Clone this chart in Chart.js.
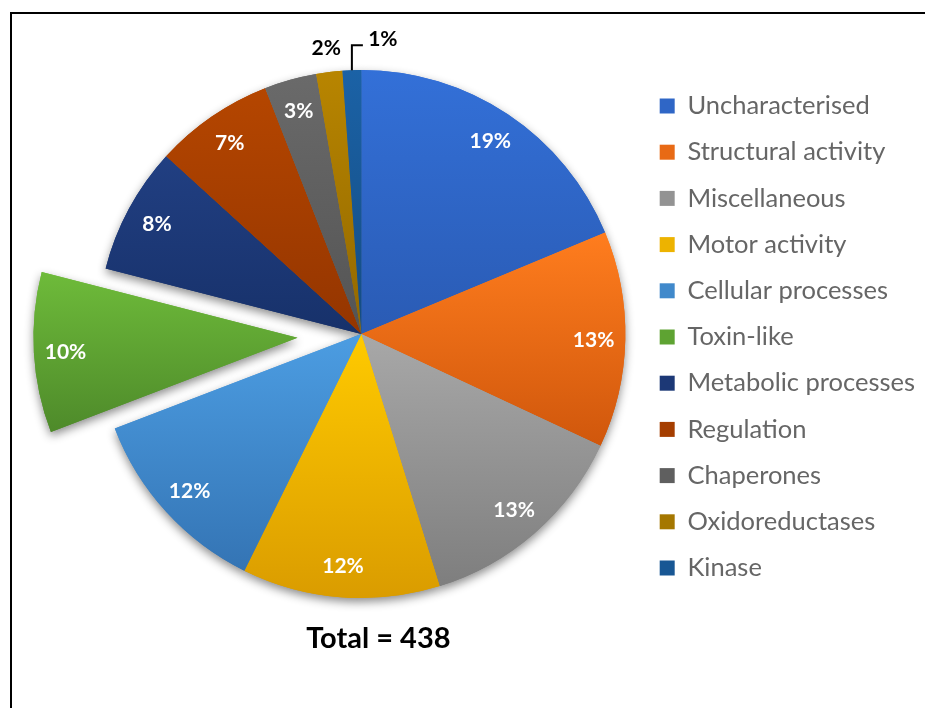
<!DOCTYPE html>
<html>
<head>
<meta charset="utf-8">
<script src="https://cdn.jsdelivr.net/npm/chart.js@4"></script>
<style>
html,body{margin:0;padding:0;background:#fff;}
#wrap{position:relative;width:925px;height:708px;overflow:hidden;background:#fff;}
#frame{position:absolute;left:10px;top:12px;width:1000px;height:1000px;border-top:2px solid #000;border-left:2px solid #000;box-sizing:border-box;}
canvas{position:absolute;left:0;top:0;}
</style>
</head>
<body>
<div id="wrap"><div id="frame"></div><canvas id="c" width="925" height="708"></canvas></div>
<script>
// ---- data ----
const categories = ['Uncharacterised','Structural activity','Miscellaneous','Motor activity','Cellular processes','Toxin-like','Metabolic processes','Regulation','Chaperones','Oxidoreductases','Kinase'];
const counts = [82, 58, 58, 53, 52, 43, 34, 32, 14, 7, 5];
const totalText = 'Total = 438';
const explodedCategory = 'Toxin-like';

// ---- styles ----
const topColors    = ['#3370D8','#FF7D1E','#A8A8A8','#FFCA00','#4C9DE2','#6EBB3A','#213F82','#B54600','#6A6A6A','#B88500','#1B62A6'];
const bottomColors = ['#2A5BB4','#D0570C','#7E7E7E','#DA9C00','#3474B4','#4E8A2A','#17316A','#943500','#545454','#926800','#144C82'];
const RADIUS = 264, EXPLODE = 64;
const LEGEND_FONT = 25.5, LEGEND_PAD = 20.7, BOX = 15;
const LEGEND_LEFT = 640.3;
const FONT = 'Lato, Carlito, "Open Sans", sans-serif';

const total = counts.reduce((a,b)=>a+b,0);
const explodedIndex = categories.indexOf(explodedCategory);

function mix(a, b) {
  const p = h => [1,3,5].map(k => parseInt(h.substr(k,2),16));
  const x = p(a), y = p(b);
  return 'rgb(' + x.map((v,i)=>Math.round((v+y[i])/2)).join(',') + ')';
}

function sliceBounds(i, cy, R) {
  let acc = 0;
  for (let j = 0; j < i; j++) acc += counts[j];
  const a0 = -Math.PI/2 + acc/total*2*Math.PI;
  const a1 = a0 + counts[i]/total*2*Math.PI;
  const ys = [cy, cy + R*Math.sin(a0), cy + R*Math.sin(a1)];
  [-Math.PI/2, Math.PI/2, 3*Math.PI/2].forEach(t => { if (t >= a0 && t <= a1) ys.push(cy + R*Math.sin(t)); });
  return [Math.min(...ys), Math.max(...ys)];
}

const explodePlugin = {
  id: 'explode',
  beforeDatasetsDraw(chart) {
    const meta = chart.getDatasetMeta(0);
    const el = meta.data[explodedIndex];
    if (el && !el._wrapped) {
      const orig = el.draw.bind(el);
      el.draw = function(ctx) {
        const a = (this.startAngle + this.endAngle)/2;
        ctx.save();
        ctx.translate(Math.cos(a)*EXPLODE, Math.sin(a)*EXPLODE);
        orig(ctx);
        ctx.restore();
      };
      el._wrapped = true;
    }
    // shadow pass
    const ctx = chart.ctx;
    ctx.save();
    ctx.shadowColor = 'rgba(0,0,0,0.45)';
    ctx.shadowBlur = 10;
    ctx.shadowOffsetY = 4;
    meta.data.forEach(e => e.draw(ctx));
    ctx.restore();
  }
};

const labelPlugin = {
  id: 'pctLabels',
  afterDatasetsDraw(chart) {
    const ctx = chart.ctx;
    const meta = chart.getDatasetMeta(0);
    let prevOut = null;
    ctx.save();
    ctx.font = 'bold 21px ' + FONT;
    ctx.textAlign = 'center';
    ctx.textBaseline = 'middle';
    meta.data.forEach((el, i) => {
      const pct = Math.round(counts[i]/total*100);
      const mid = (el.startAngle + el.endAngle)/2;
      let cx = el.x, cy = el.y;
      if (i === explodedIndex) { cx += Math.cos(mid)*EXPLODE; cy += Math.sin(mid)*EXPLODE; }
      const R = el.outerRadius;
      const txt = pct + '%';
      if (pct >= 3) {
        ctx.fillStyle = '#fff';
        ctx.fillText(txt, cx + Math.cos(mid)*R*0.88, cy + Math.sin(mid)*R*0.88 + 1);
      } else {
        let lx = cx + Math.cos(mid)*(R+24), ly = cy + Math.sin(mid)*(R+24);
        ctx.fillStyle = '#000';
        if (prevOut && Math.hypot(lx-prevOut[0], ly-prevOut[1]) < 30) {
          const px = cx + Math.cos(mid)*R, py = cy + Math.sin(mid)*R;
          ctx.strokeStyle = '#000';
          ctx.lineWidth = 2;
          ctx.beginPath();
          ctx.moveTo(px, py);
          ctx.lineTo(px, py - 25);
          ctx.lineTo(px + 11, py - 25);
          ctx.stroke();
          lx = px + 31; ly = py - 31;
        }
        ctx.fillText(txt, lx, ly);
        prevOut = [lx, ly];
      }
    });
    ctx.restore();
  }
};

const totalPlugin = {
  id: 'totalText',
  afterDraw(chart) {
    const a = chart.chartArea;
    const ctx = chart.ctx;
    ctx.save();
    ctx.font = 'bold 29px ' + FONT;
    ctx.fillStyle = '#000';
    ctx.textAlign = 'center';
    ctx.textBaseline = 'alphabetic';
    ctx.fillText(totalText, (a.left + a.right)/2 + 17, 648);
    ctx.restore();
  }
};

const chart = new Chart(document.getElementById('c'), {
  type: 'pie',
  data: {
    labels: categories,
    datasets: [{
      data: counts,
      borderWidth: 0,
      backgroundColor: (c) => {
        const chart = c.chart, a = chart.chartArea;
        const i = c.dataIndex;
        if (!a || i === undefined) return topColors[i || 0];
        const cy = (a.top + a.bottom)/2;
        const [y0, y1] = sliceBounds(i, cy, RADIUS);
        const g = chart.ctx.createLinearGradient(0, y0, 0, y1);
        g.addColorStop(0, topColors[i]);
        g.addColorStop(1, bottomColors[i]);
        return g;
      }
    }]
  },
  options: {
    responsive: false,
    animation: false,
    events: [],
    radius: RADIUS,
    layout: { padding: { left: 724 - LEGEND_LEFT, right: 0, top: 0, bottom: 40 } },
    plugins: {
      tooltip: { enabled: false },
      title: { display: false },
      legend: {
        position: 'right',
        align: 'center',
        title: { display: true, text: '', padding: 0, font: { size: 6, lineHeight: 1 } },
        labels: {
          boxWidth: BOX,
          boxHeight: BOX,
          padding: LEGEND_PAD,
          color: '#44546A',
          font: { family: FONT, size: LEGEND_FONT },
          generateLabels(chart) {
            return categories.map((t, i) => ({
              text: t,
              fillStyle: mix(topColors[i], bottomColors[i]),
              strokeStyle: mix(topColors[i], bottomColors[i]),
              lineWidth: 0,
              hidden: false,
              index: i
            }));
          }
        }
      }
    }
  },
  plugins: [explodePlugin, labelPlugin, totalPlugin]
});
// place the legend (and so the chart area's right edge) where the reference has it
const shift = LEGEND_LEFT - chart.legend.left;
chart.options.layout.padding.right = Math.max(0, -shift);
chart.update();
</script>
</body>
</html>
